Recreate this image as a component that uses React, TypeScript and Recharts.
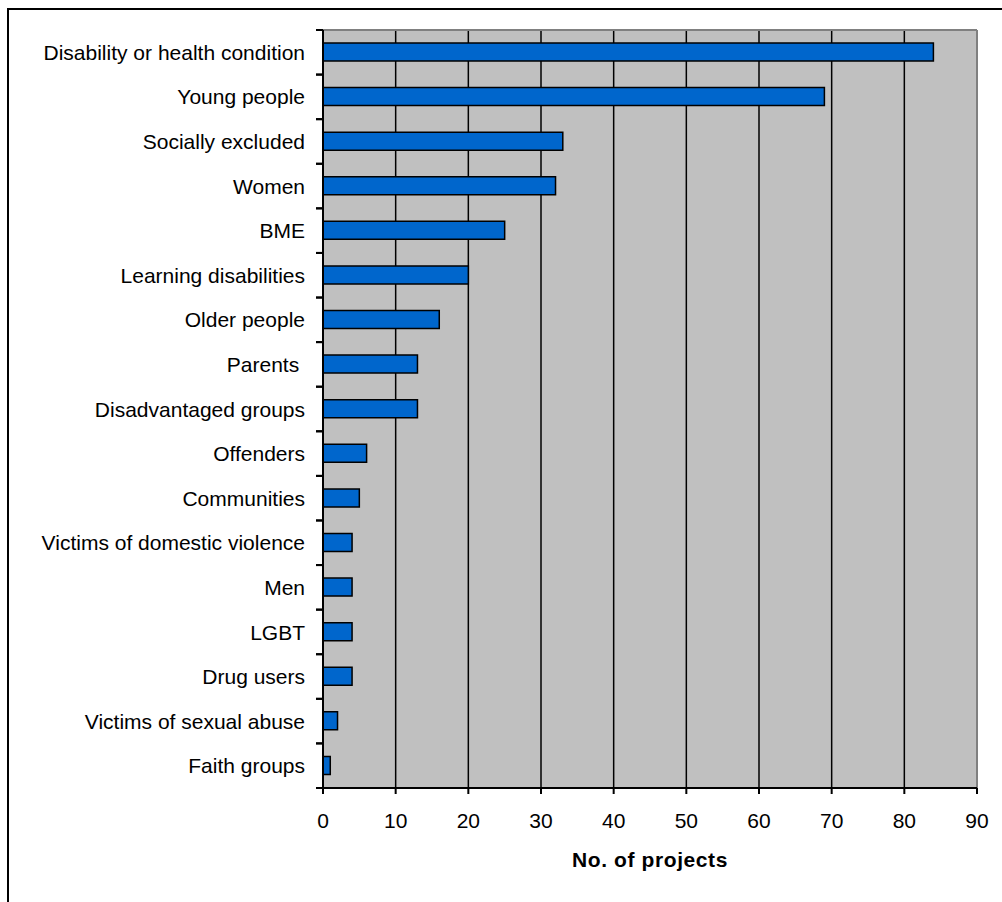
import React from "react";
import {
  BarChart,
  Bar,
  XAxis,
  YAxis,
  CartesianGrid,
  Label,
} from "recharts";

// Target groups, top to bottom
const groups: string[] = [
  "Disability or health condition",
  "Young people",
  "Socially excluded",
  "Women",
  "BME",
  "Learning disabilities",
  "Older people",
  "Parents ",
  "Disadvantaged groups",
  "Offenders",
  "Communities",
  "Victims of domestic violence",
  "Men",
  "LGBT",
  "Drug users",
  "Victims of sexual abuse",
  "Faith groups",
];

// Number of projects per group
const projectCounts: number[] = [84, 69, 33, 32, 25, 20, 16, 13, 13, 6, 5, 4, 4, 4, 4, 2, 1];

const xTicks: number[] = [0, 10, 20, 30, 40, 50, 60, 70, 80, 90];

const FONT = '"Liberation Sans", Arial, sans-serif';

const data = groups.map((name, i) => ({ name, value: projectCounts[i] }));

// Category tick: right-aligned label plus short tick marks on the band edges
const GroupTick = (props: any) => {
  const { x, y, payload } = props;
  const half = payload?.offset ?? 758 / 17 / 2;
  const x1 = x + 11;
  const x2 = x + 18;
  return (
    <g>
      <line x1={x1} x2={x2} y1={y - half} y2={y - half} stroke="#000" strokeWidth={2} />
      <line x1={x1} x2={x2} y1={y + half} y2={y + half} stroke="#000" strokeWidth={2} />
      <text
        x={x}
        y={y}
        dy="0.36em"
        textAnchor="end"
        fontFamily={FONT}
        fontSize={21}
        fill="#000"
        style={{ whiteSpace: "pre" }}
      >
        {payload.value}
      </text>
    </g>
  );
};

const App: React.FC = () => {
  return (
    <div
      style={{
        position: "absolute",
        left: 0,
        top: 0,
        width: 1002,
        height: 902,
        background: "#fff",
        overflow: "hidden",
      }}
    >
      {/* outer frame, only top and left edges fall inside the page */}
      <div
        style={{
          position: "absolute",
          left: 7,
          top: 8,
          width: 1100,
          height: 1000,
          borderLeft: "2px solid #000",
          borderTop: "2px solid #000",
        }}
      />
      <BarChart
        width={1002}
        height={902}
        data={data}
        layout="vertical"
        margin={{ top: 30, right: 25, left: 0, bottom: 0 }}
        barSize={18}
        style={{ position: "absolute", left: 0, top: 0 }}
      >
        <CartesianGrid
          horizontal={false}
          vertical
          stroke="#000"
          strokeWidth={1.5}
          fill="#C0C0C0"
          fillOpacity={1}
        />
        {/* grey plot border on top and right */}
        <CartesianGrid
          horizontalCoordinatesGenerator={({ offset }: any) => [offset.top]}
          verticalCoordinatesGenerator={({ offset }: any) => [offset.left + offset.width]}
          stroke="#808080"
          strokeWidth={2}
        />
        <XAxis
          type="number"
          domain={[0, 90]}
          ticks={xTicks}
          interval={0}
          height={114}
          tickSize={6}
          tickMargin={19}
          axisLine={{ stroke: "#000", strokeWidth: 2 }}
          tickLine={{ stroke: "#000", strokeWidth: 2 }}
          tick={{ fontFamily: FONT, fontSize: 21, fill: "#000" }}
        >
          <Label
            value="No. of projects"
            position="insideTop"
            offset={64}
            style={{
              fontFamily: FONT,
              fontSize: 21,
              fontWeight: "bold",
              fill: "#000",
              letterSpacing: 0.6,
            }}
          />
        </XAxis>
        <YAxis
          type="category"
          dataKey="name"
          width={323}
          interval={0}
          tickSize={7}
          tickMargin={11}
          tickLine={false}
          axisLine={{ stroke: "#000", strokeWidth: 2 }}
          tick={<GroupTick />}
        />
        <Bar
          dataKey="value"
          fill="#0066CC"
          stroke="#000"
          strokeWidth={1.5}
          isAnimationActive={false}
        />
      </BarChart>
    </div>
  );
};

export default App;
